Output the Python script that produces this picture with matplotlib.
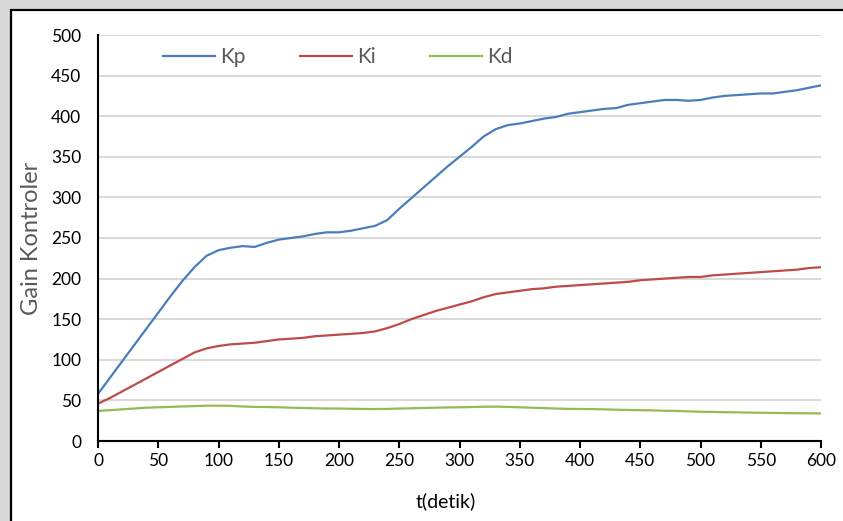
import matplotlib.pyplot as plt
from matplotlib.patches import Rectangle
import numpy as np

plt.rcParams['font.family'] = ['Lato', 'DejaVu Sans']

# time axis, 10 s steps
t = np.arange(0, 601, 10)

kp = [58, 78, 98, 118, 138, 158, 178, 197, 214, 228,
      235, 238, 240, 239, 244, 248, 250, 252, 255, 257,
      257, 259, 262, 265, 272, 286, 299, 312, 325, 338,
      350, 362, 375, 384, 389, 391, 394, 397, 399, 403,
      405, 407, 409, 410, 414, 416, 418, 420, 420, 419,
      420, 423, 425, 426, 427, 428, 428, 430, 432, 435, 438]

ki = [46, 53, 61, 69, 77, 85, 93, 101, 109, 114,
      117, 119, 120, 121, 123, 125, 126, 127, 129, 130,
      131, 132, 133, 135, 139, 144, 150, 155, 160, 164,
      168, 172, 177, 181, 183, 185, 187, 188, 190, 191,
      192, 193, 194, 195, 196, 198, 199, 200, 201, 202,
      202, 204, 205, 206, 207, 208, 209, 210, 211, 213, 214]

kd = [37, 38, 39, 40, 41, 41.5, 42, 42.5, 43, 43.5,
      43.5, 43.3, 42.5, 42, 41.8, 41.5, 41, 40.7, 40.3, 40,
      40, 39.7, 39.5, 39.3, 39.5, 40, 40.3, 40.7, 41, 41.3,
      41.5, 41.8, 42.2, 42.3, 42, 41.5, 41, 40.5, 40, 39.6,
      39.4, 39.3, 39, 38.5, 38.2, 38, 37.7, 37.3, 37, 36.5,
      36, 35.8, 35.5, 35.3, 35, 34.8, 34.6, 34.4, 34.2, 34.1, 34]

W, H = 843, 521
fig = plt.figure(figsize=(W / 100, H / 100), dpi=100)
fig.patch.set_facecolor('#d9d9d9')

# white frame with black border (runs off the right/bottom edge)
frame = Rectangle((11 / W, -0.05), 1.1, (H - 10) / H + 0.05,
                  transform=fig.transFigure, facecolor='white',
                  edgecolor='black', linewidth=1.6, zorder=-10)
fig.patches.append(frame)

ax = fig.add_axes([98 / W, 1 - 441 / H, (821 - 98) / W, (441 - 35) / H])
ax.set_facecolor('white')
ax.set_zorder(1)

ax.plot(t, kp, color='#4a7ebb', lw=1.6, label='Kp')
ax.plot(t, ki, color='#be4b48', lw=1.6, label='Ki')
ax.plot(t, kd, color='#98b954', lw=1.6, label='Kd')

ax.set_xlim(0, 600)
ax.set_ylim(0, 500)
ax.set_xticks(range(0, 601, 50))
ax.set_yticks(range(0, 501, 50))
ax.grid(axis='y', color='#d9d9d9', lw=1.5)
ax.set_axisbelow(True)

for s in ['top', 'right']:
    ax.spines[s].set_visible(False)
for s in ['left', 'bottom']:
    ax.spines[s].set_linewidth(1.5)
ax.tick_params(axis='y', length=0, pad=12, labelsize=12.5)
ax.tick_params(axis='x', length=5, width=1.5, direction='out', pad=4, labelsize=12.5)

ax.set_ylabel('Gain Kontroler', fontsize=17, color='#595959')
ax.yaxis.set_label_coords(-0.078, 0.5)
ax.set_xlabel('t(detik)', fontsize=14)
ax.xaxis.set_label_coords(0.481, -0.125)

leg = ax.legend(ncol=3, frameon=False, loc='center left',
                bbox_to_anchor=(0.064, 0.945), fontsize=15,
                handlelength=2.5, handletextpad=0.25, columnspacing=2.6)
for txt in leg.get_texts():
    txt.set_color('#595959')

plt.savefig('out.png', dpi=100, facecolor=fig.get_facecolor())
